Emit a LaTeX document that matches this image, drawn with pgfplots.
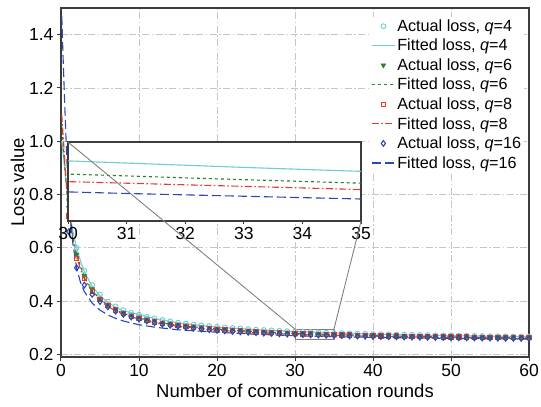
\documentclass[border=0pt]{standalone}
\usepackage{pgfplots}
\pgfplotsset{compat=1.18}
\usepackage{pgfplotstable}
\usepackage{fontspec}
\setmainfont{Liberation Sans}
\usetikzlibrary{calc}
\definecolor{cqa}{RGB}{110,205,210}
\definecolor{cqb}{RGB}{40,130,40}
\definecolor{cqc}{RGB}{232,58,42}
\definecolor{cqd}{RGB}{40,72,178}
\definecolor{frm}{RGB}{60,60,60}

\pgfplotstableread{
x y
1 0.78
2 0.60
3 0.515
4 0.46
5 0.425
6 0.398
7 0.38
8 0.366
9 0.356
10 0.349
11 0.341
12 0.335
13 0.329
14 0.324
15 0.319
16 0.316
17 0.312
18 0.309
19 0.306
20 0.303
21 0.301
22 0.299
23 0.297
24 0.295
25 0.293
26 0.2915
27 0.29
28 0.2885
29 0.287
30 0.2858
31 0.2845
32 0.2835
33 0.2825
34 0.2812
35 0.2803
36 0.2795
37 0.2787
38 0.278
39 0.2772
40 0.2765
41 0.2758
42 0.2752
43 0.2745
44 0.274
45 0.2733
46 0.2728
47 0.2722
48 0.2717
49 0.2712
50 0.2707
51 0.2702
52 0.2698
53 0.2693
54 0.2689
55 0.2685
56 0.2681
57 0.2677
58 0.2673
59 0.267
60 0.2666
}\actA

\pgfplotstableread{
x y
1 0.75
2 0.575
3 0.495
4 0.445
5 0.41
6 0.387
7 0.37
8 0.357
9 0.347
10 0.339
11 0.332
12 0.326
13 0.32
14 0.316
15 0.312
16 0.308
17 0.305
18 0.302
19 0.2995
20 0.297
21 0.295
22 0.293
23 0.291
24 0.2893
25 0.2877
26 0.2862
27 0.2848
28 0.2835
29 0.2823
30 0.2812
31 0.2801
32 0.2791
33 0.2781
34 0.2772
35 0.2763
36 0.2755
37 0.2747
38 0.274
39 0.2733
40 0.2726
41 0.272
42 0.2714
43 0.2708
44 0.2702
45 0.2697
46 0.2692
47 0.2687
48 0.2682
49 0.2678
50 0.2673
51 0.2669
52 0.2665
53 0.2661
54 0.2657
55 0.2654
56 0.265
57 0.2647
58 0.2644
59 0.2641
60 0.2638
}\actB

\pgfplotstableread{
x y
1 0.72
2 0.56
3 0.485
4 0.437
5 0.405
6 0.383
7 0.366
8 0.353
9 0.343
10 0.335
11 0.328
12 0.322
13 0.316
14 0.312
15 0.308
16 0.304
17 0.301
18 0.298
19 0.2955
20 0.293
21 0.291
22 0.289
23 0.2872
24 0.2856
25 0.284
26 0.2826
27 0.2813
28 0.2801
29 0.279
30 0.278
31 0.277
32 0.2761
33 0.2752
34 0.2744
35 0.2736
36 0.2729
37 0.2722
38 0.2715
39 0.2709
40 0.2703
41 0.2697
42 0.2692
43 0.2686
44 0.2681
45 0.2676
46 0.2672
47 0.2667
48 0.2663
49 0.2659
50 0.2655
51 0.2651
52 0.2648
53 0.2644
54 0.2641
55 0.2638
56 0.2635
57 0.2632
58 0.2629
59 0.2626
60 0.2624
}\actC

\pgfplotstableread{
x y
1 0.66
2 0.525
3 0.46
4 0.425
5 0.398
6 0.378
7 0.362
8 0.35
9 0.34
10 0.332
11 0.325
12 0.319
13 0.313
14 0.309
15 0.305
16 0.301
17 0.298
18 0.295
19 0.2925
20 0.29
21 0.288
22 0.286
23 0.2842
24 0.2826
25 0.281
26 0.2796
27 0.2783
28 0.277
29 0.2759
30 0.2748
31 0.2738
32 0.2729
33 0.272
34 0.2712
35 0.2704
36 0.2697
37 0.269
38 0.2683
39 0.2677
40 0.2671
41 0.2665
42 0.266
43 0.2655
44 0.265
45 0.2645
46 0.2641
47 0.2636
48 0.2632
49 0.2628
50 0.2624
51 0.2621
52 0.2617
53 0.2614
54 0.261
55 0.2607
56 0.2604
57 0.2601
58 0.2598
59 0.2596
60 0.2593
}\actD

\pgfplotstableread{
x y
0.1 1.00
0.25 0.96
0.5 0.89
0.75 0.82
1 0.76
1.5 0.665
2 0.60
2.5 0.55
3 0.51
4 0.455
5 0.42
6 0.395
7 0.377
8 0.363
10 0.35
12 0.334
15 0.318
20 0.302
25 0.2925
30 0.2855
31 0.2844
32 0.2833
33 0.2822
34 0.2812
35 0.2802
40 0.276
45 0.2727
50 0.27
55 0.2677
60 0.2658
}\fitA

\pgfplotstableread{
x y
0.1 1.06
0.25 1.0
0.5 0.9
0.75 0.81
1 0.74
1.5 0.64
2 0.575
2.5 0.53
3 0.49
4 0.44
5 0.407
6 0.384
7 0.367
8 0.354
10 0.336
12 0.323
15 0.309
20 0.295
25 0.2855
30 0.2788
31 0.2779
32 0.2769
33 0.2760
34 0.2751
35 0.2742
40 0.2705
45 0.2676
50 0.2652
55 0.2632
60 0.2615
}\fitB

\pgfplotstableread{
x y
0.1 1.1
0.25 1.03
0.5 0.92
0.75 0.82
1 0.74
1.5 0.63
2 0.565
2.5 0.52
3 0.483
4 0.434
5 0.402
6 0.38
7 0.363
8 0.35
10 0.332
12 0.319
15 0.305
20 0.291
25 0.2815
30 0.275
31 0.2742
32 0.2734
33 0.2726
34 0.2718
35 0.271
40 0.2678
45 0.2652
50 0.2631
55 0.2614
60 0.2600
}\fitC

\pgfplotstableread{
x y
0.1 1.47
0.25 1.33
0.5 1.12
0.75 0.93
1 0.79
1.5 0.62
2 0.525
2.5 0.47
3 0.435
4 0.392
5 0.366
6 0.348
7 0.335
8 0.325
10 0.311
12 0.302
15 0.292
20 0.283
25 0.2755
30 0.2698
31 0.2690
32 0.2683
33 0.2676
34 0.2669
35 0.2662
40 0.2636
45 0.2615
50 0.2598
55 0.2585
60 0.2574
}\fitD

\tikzset{
  dq6/.style={dash pattern=on 3pt off 3pt},
  dq8/.style={dash pattern=on 7pt off 2.5pt on 1.5pt off 2.5pt},
  dq16/.style={dash pattern=on 9pt off 4pt},
}

\begin{document}
\begin{tikzpicture}
\begin{axis}[
  name=main,
  scale only axis,
  width=468pt, height=349pt,
  xmin=0, xmax=60, ymin=0.19, ymax=1.5,
  xtick={0,10,20,30,40,50,60},
  ytick={0.2,0.4,0.6,0.8,1.0,1.2,1.4},
  yticklabel style={/pgf/number format/.cd,fixed,fixed zerofill,precision=1},
  /pgf/number format/assume math mode=true,
  tick label style={font=\fontsize{17.5}{17.5}\selectfont, text=black},
  label style={font=\fontsize{18.5}{18.5}\selectfont},
  xlabel={Number of communication rounds},
  ylabel={Loss value},
  ylabel style={yshift=-2pt},
  grid=major,
  major grid style={gray!45, line width=0.8pt, dash pattern=on 7pt off 2.5pt on 1.5pt off 2.5pt},
  axis line style={frm, line width=1.4pt},
  tick align=outside, tick pos=left,
  major tick length=4pt,
  tick style={frm, line width=1pt},
  legend cell align=left,
  legend style={draw=none, fill=white, at={(0.99,0.976)}, anchor=north east,
    font=\fontsize{16.2}{16.2}\selectfont, row sep=2.3pt, inner sep=1pt},
  legend image code/.code={\draw[mark repeat=2,mark phase=2,#1] plot coordinates {(0cm,0cm) (0.4cm,0cm) (0.8cm,0cm)};},
]
\addplot[only marks, mark=o, mark size=2.4pt, cqa, mark options={line width=0.9pt}] table {\actA};
\addlegendentry{Actual loss, \textit{q}=4}
\addplot[cqa, line width=1.1pt] table {\fitA};
\addlegendentry{Fitted loss, \textit{q}=4}
\addplot[only marks, mark=triangle*, mark size=2.6pt, cqb, mark options={rotate=180, line width=0.6pt}] table {\actB};
\addlegendentry{Actual loss, \textit{q}=6}
\addplot[cqb, line width=1.1pt, dq6] table {\fitB};
\addlegendentry{Fitted loss, \textit{q}=6}
\addplot[only marks, mark=square, mark size=2.2pt, cqc, mark options={line width=0.9pt}] table {\actC};
\addlegendentry{Actual loss, \textit{q}=8}
\addplot[cqc, line width=1.1pt, dq8] table {\fitC};
\addlegendentry{Fitted loss, \textit{q}=8}
\addplot[only marks, mark=diamond, mark size=2.8pt, cqd, mark options={line width=1.1pt}] table {\actD};
\addlegendentry{Actual loss, \textit{q}=16}
\addplot[cqd, line width=1.1pt, dq16] table {\fitD};
\addlegendentry{Fitted loss, \textit{q}=16}
\draw[gray, line width=0.9pt] (axis cs:30,0.255) rectangle (axis cs:35,0.295);
\coordinate (insSW) at (axis cs:0.9,0.7);
\coordinate (rectNW) at (axis cs:30,0.295);
\coordinate (rectNE) at (axis cs:35,0.295);
\end{axis}
\begin{axis}[
  name=ins,
  at={(insSW)}, anchor=south west,
  scale only axis,
  width=293pt, height=79pt,
  xmin=30, xmax=35, ymin=0.255, ymax=0.295,
  xtick={30,31,32,33,34,35},
  ytick=\empty,
  axis background/.style={fill=white},
  /pgf/number format/assume math mode=true,
  tick label style={font=\fontsize{17.5}{17.5}\selectfont, text=black},
  axis line style={frm, line width=1.3pt},
  tick align=outside, tick pos=left,
  major tick length=3pt,
  tick style={frm, line width=1pt},
]
\addplot[cqa, line width=1.1pt] table {\fitA};
\addplot[cqb, line width=1.1pt, dq6] table {\fitB};
\addplot[cqc, line width=1.1pt, dq8] table {\fitC};
\addplot[cqd, line width=1.1pt, dq16] table {\fitD};
\end{axis}
\draw[gray, line width=0.9pt] (ins.north west) -- (rectNW);
\draw[gray, line width=0.9pt] (ins.south east) -- (rectNE);
\pgfresetboundingbox
\path ($(main.south west)+(-61pt,-50pt)$) rectangle ($(main.north east)+(12pt,8pt)$);
\end{tikzpicture}
\end{document}
